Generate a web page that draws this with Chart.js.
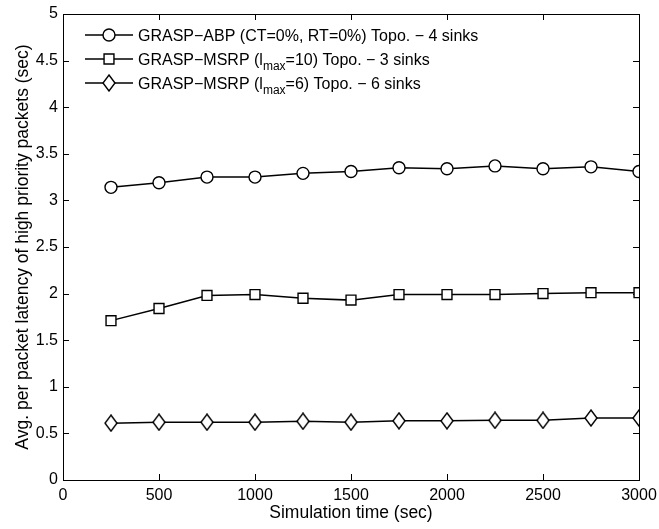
<!DOCTYPE html>
<html>
<head>
<meta charset="utf-8">
<script src="https://cdn.jsdelivr.net/npm/chart.js@4/dist/chart.umd.min.js"></script>
<style>
  body { margin: 0; background: #fff; }
  #wrap { width: 659px; height: 529px; }
</style>
</head>
<body>
<div id="wrap"><canvas id="latencyChart" width="659" height="529"></canvas></div>
<script>
// simulation time (sec) on x, avg latency (sec) on y
const simTimes = [250, 500, 750, 1000, 1250, 1500, 1750, 2000, 2250, 2500, 2750, 3000];
const abpLatency = [3.14, 3.19, 3.25, 3.25, 3.29, 3.31, 3.35, 3.34, 3.37, 3.34, 3.36, 3.31];
const msrp10Latency = [1.71, 1.84, 1.98, 1.99, 1.95, 1.93, 1.99, 1.99, 1.99, 2.0, 2.01, 2.01];
const msrp6Latency = [0.61, 0.62, 0.62, 0.62, 0.63, 0.62, 0.635, 0.635, 0.64, 0.64, 0.665, 0.665];

// _{...} marks a subscript in the legend text
const legendLabels = [
    'GRASP\u2212ABP (CT=0%, RT=0%) Topo. \u2212 4 sinks',
    'GRASP\u2212MSRP (l_{max}=10) Topo. \u2212 3 sinks',
    'GRASP\u2212MSRP (l_{max}=6) Topo. \u2212 6 sinks'
];

const xMin = 0, xMax = 3000, xStep = 500;
const yMin = 0, yMax = 5, yStep = 0.5;

const fontFamily = '"Liberation Sans", Arial, Helvetica, sans-serif';

// MATLAB style diamond (taller than wide)
let diamondMarker = (w, h) => {
    const c = document.createElement('canvas');
    c.width = w;
    c.height = h;
    const g = c.getContext('2d');
    g.beginPath();
    g.moveTo(w / 2, 1);
    g.lineTo(w - 1, h / 2);
    g.lineTo(w / 2, h - 1);
    g.lineTo(1, h / 2);
    g.closePath();
    g.fillStyle = '#fff';
    g.fill();
    g.lineWidth = 1.4;
    g.strokeStyle = '#000';
    g.stroke();
    return c;
}

const diamond = diamondMarker(14, 18);

let toPoints = (values) => simTimes.map((t, i) => ({ x: t, y: values[i] }));
let plainLabel = (s) => s.replace(/_\{([^}]*)\}/g, '$1');

let series = (idx, values, style, radius) => ({
    label: plainLabel(legendLabels[idx]),
    data: toPoints(values),
    borderColor: '#000',
    borderWidth: 1.5,
    backgroundColor: '#fff',
    pointStyle: style,
    pointRadius: radius,
    pointBorderWidth: 1.4,
    pointBorderColor: '#000',
    pointBackgroundColor: '#fff',
    tension: 0,
    fill: false
});

// box around the plot with inward ticks on all four sides
const framePlugin = {
    id: 'frame',
    beforeDatasetsDraw(chart) {
        const { ctx, chartArea: a, scales } = chart;
        const tickLen = 6;
        ctx.save();
        ctx.strokeStyle = '#000';
        ctx.lineWidth = 1;
        ctx.beginPath();
        scales.x.ticks.forEach((t) => {
            const px = Math.round(scales.x.getPixelForValue(t.value)) + 0.5;
            ctx.moveTo(px, a.bottom);
            ctx.lineTo(px, a.bottom - tickLen);
            ctx.moveTo(px, a.top);
            ctx.lineTo(px, a.top + tickLen);
        });
        scales.y.ticks.forEach((t) => {
            const py = Math.round(scales.y.getPixelForValue(t.value)) + 0.5;
            ctx.moveTo(a.left, py);
            ctx.lineTo(a.left + tickLen, py);
            ctx.moveTo(a.right, py);
            ctx.lineTo(a.right - tickLen, py);
        });
        ctx.stroke();
        ctx.strokeRect(Math.round(a.left) + 0.5, Math.round(a.top) + 0.5,
            Math.round(a.right - a.left), Math.round(a.bottom - a.top));
        ctx.restore();
    }
};

// legend drawn by hand so that l_max can get its subscript
const legendPlugin = {
    id: 'matlabLegend',
    afterDatasetsDraw(chart) {
        const ctx = chart.ctx;
        const rows = [35, 59, 83];
        const lineStart = 85, lineEnd = 133, markX = 109, textX = 138;
        const mainFont = '16px ' + fontFamily;
        const subFont = '12px ' + fontFamily;
        ctx.save();
        chart.data.datasets.forEach((ds, i) => {
            const y = rows[i];
            ctx.strokeStyle = '#000';
            ctx.lineWidth = 1.5;
            ctx.beginPath();
            ctx.moveTo(lineStart, y);
            ctx.lineTo(lineEnd, y);
            ctx.stroke();

            ctx.fillStyle = '#fff';
            ctx.lineWidth = 1.4;
            if (ds.pointStyle instanceof HTMLCanvasElement) {
                ctx.drawImage(ds.pointStyle, markX - ds.pointStyle.width / 2, y - ds.pointStyle.height / 2);
            } else if (ds.pointStyle === 'rect') {
                const s = Math.SQRT1_2 * ds.pointRadius;
                ctx.beginPath();
                ctx.rect(markX - s, y - s, 2 * s, 2 * s);
                ctx.fill();
                ctx.stroke();
            } else {
                ctx.beginPath();
                ctx.arc(markX, y, ds.pointRadius, 0, Math.PI * 2);
                ctx.fill();
                ctx.stroke();
            }

            ctx.fillStyle = '#000';
            ctx.textBaseline = 'alphabetic';
            let x = textX;
            const base = y + 6;
            legendLabels[i].split(/(_\{[^}]*\})/).forEach((part) => {
                if (!part) return;
                if (part.startsWith('_{')) {
                    const s = part.slice(2, -1);
                    ctx.font = subFont;
                    ctx.fillText(s, x, base + 5);
                    x += ctx.measureText(s).width;
                } else {
                    ctx.font = mainFont;
                    ctx.fillText(part, x, base);
                    x += ctx.measureText(part).width;
                }
            });
        });
        ctx.restore();
    }
};

const config = {
    type: 'line',
    data: {
        datasets: [
            series(0, abpLatency, 'circle', 6),
            series(1, msrp10Latency, 'rect', 7),
            series(2, msrp6Latency, diamond, 7)
        ]
    },
    options: {
        responsive: false,
        animation: false,
        events: [],
        layout: {
            padding: { top: 14, right: 20, left: 0, bottom: 0 }
        },
        plugins: {
            legend: { display: false },
            tooltip: { enabled: false }
        },
        scales: {
            x: {
                type: 'linear',
                min: xMin,
                max: xMax,
                grid: { display: false, drawTicks: false },
                border: { display: false },
                ticks: {
                    stepSize: xStep,
                    color: '#000',
                    padding: 6,
                    font: { family: fontFamily, size: 16 },
                    callback: (v) => String(v)
                },
                title: {
                    display: true,
                    text: 'Simulation time (sec)',
                    color: '#000',
                    font: { family: fontFamily, size: 17.5 },
                    padding: { top: 0, bottom: 5 }
                },
                afterFit: (scale) => {
                    scale.height = 49;
                    scale.paddingLeft = 0;
                    scale.paddingRight = 0;
                }
            },
            y: {
                min: yMin,
                max: yMax,
                grid: { display: false, drawTicks: false },
                border: { display: false },
                ticks: {
                    stepSize: yStep,
                    color: '#000',
                    padding: 5,
                    font: { family: fontFamily, size: 16 },
                    callback: (v) => String(v)
                },
                title: {
                    display: true,
                    text: 'Avg. per packet latency of high priority packets (sec)',
                    color: '#000',
                    font: { family: fontFamily, size: 17.5 },
                    padding: { top: 13, bottom: 0 }
                },
                afterFit: (scale) => {
                    scale.width = 63;
                    scale.paddingTop = 0;
                    scale.paddingBottom = 0;
                }
            }
        }
    },
    plugins: [framePlugin, legendPlugin]
};

const latencyChart = new Chart(document.getElementById('latencyChart'), config);
</script>
</body>
</html>
